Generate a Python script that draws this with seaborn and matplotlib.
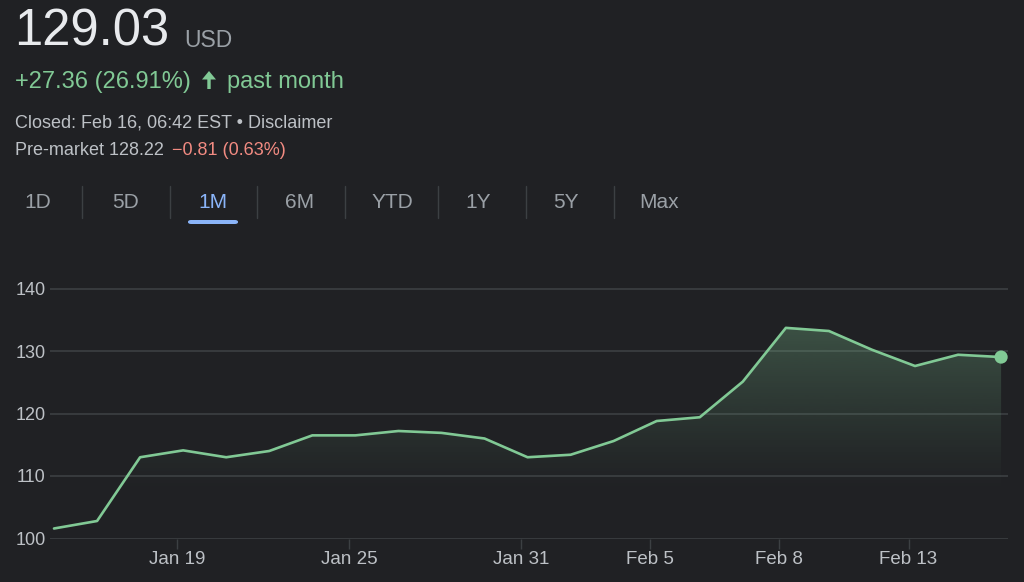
import numpy as np
import matplotlib
matplotlib.use("Agg")
import matplotlib.pyplot as plt
import seaborn as sns
from matplotlib.patches import Polygon, FancyBboxPatch
from matplotlib.lines import Line2D

# ---------------- data ----------------
dates = ["Jan 16", "Jan 17", "Jan 18", "Jan 19", "Jan 22", "Jan 23", "Jan 24",
         "Jan 25", "Jan 26", "Jan 29", "Jan 30", "Jan 31", "Feb 1", "Feb 2",
         "Feb 5", "Feb 6", "Feb 7", "Feb 8", "Feb 9", "Feb 12", "Feb 13",
         "Feb 14", "Feb 15"]
prices = [101.6, 102.8, 113.0, 114.1, 113.0, 114.0, 116.5, 116.5, 117.2, 116.9,
          116.0, 113.0, 113.4, 115.6, 118.8, 119.4, 125.1, 133.7, 133.2, 130.2,
          127.6, 129.4, 129.03]
tick_labels = ["Jan 19", "Jan 25", "Jan 31", "Feb 5", "Feb 8", "Feb 13"]
y_ticks = [100, 110, 120, 130, 140]
tabs = ["1D", "5D", "1M", "6M", "YTD", "1Y", "5Y", "Max"]
active_tab = "1M"

price_text = "129.03"
currency = "USD"
change_text = "+27.36 (26.91%)"
period_text = "past month"
closed_text = "Closed: Feb 16, 06:42 EST \u2022 Disclaimer"
premarket_text = "Pre-market 128.22"
premarket_change = "\u22120.81 (0.63%)"

# ---------------- style ----------------
BG = "#202124"
GREEN = "#81c995"
GRID = "#3c4043"
LABEL = "#9aa0a6"
LIGHT = "#bdc1c6"
WHITE = "#e8eaed"
RED = "#f28b82"
BLUE = "#8ab4f8"
FAM = ["Liberation Sans", "DejaVu Sans"]

sns.set_theme(style="dark")
plt.rcParams["font.family"] = FAM

W, H = 1024, 582
fig = plt.figure(figsize=(W / 100, H / 100), dpi=100, facecolor=BG)


def fy(ypix):
    return 1 - ypix / H


def T(x, y, s, **kw):
    fig.text(x / W, fy(y), s, **kw)


# ---------------- header ----------------
T(14, 46, price_text, fontsize=36.5, color=WHITE, va="baseline")
T(184, 47, currency, fontsize=16.5, color=LABEL, va="baseline")
T(15, 88, change_text, fontsize=17, color=GREEN, va="baseline")
# solid up-arrow icon
cx, tip, hb, bot, hw, sw = 209, 71, 79.5, 89, 7, 1.7
arrow_px = [(cx, tip), (cx + hw, hb), (cx + sw, hb), (cx + sw, bot),
            (cx - sw, bot), (cx - sw, hb), (cx - hw, hb)]
fig.add_artist(Polygon([(px / W, fy(py)) for px, py in arrow_px], closed=True,
                       transform=fig.transFigure, fc=GREEN, ec="none"))
T(227, 88, period_text, fontsize=17, color=GREEN, va="baseline")
T(15, 128, closed_text, fontsize=13, color=LIGHT, va="baseline")
T(15, 155, premarket_text, fontsize=13, color=LIGHT, va="baseline")
T(172, 155, premarket_change, fontsize=13, color=RED, va="baseline")

# ---------------- tabs ----------------
tab_x = [38, 126, 213, 300, 392, 478, 566, 659]
sep_x = [82, 170, 257, 345, 438, 526, 614]
for name, x in zip(tabs, tab_x):
    T(x, 203, name, fontsize=15, color=BLUE if name == active_tab else LABEL,
      ha="center", va="center")
for x in sep_x:
    fig.add_artist(Line2D([x / W, x / W], [fy(186), fy(218)],
                          transform=fig.transFigure, color=GRID, lw=1))
ax_i = tabs.index(active_tab)
fig.add_artist(FancyBboxPatch(((tab_x[ax_i] - 25) / W, fy(224)), 50 / W, 4 / H,
                              boxstyle="round,pad=0,rounding_size=0.003",
                              transform=fig.transFigure, fc=BLUE, ec="none"))

# ---------------- chart ----------------
ax = fig.add_axes([50 / W, (H - 538.5) / H, 958 / W, (538.5 - 276) / H])
ax.set_facecolor(BG)
x = np.arange(len(prices))

# gradient fill under the line
verts = [(x[0], 100)] + list(zip(x, prices)) + [(x[-1], 100)]
poly = Polygon(verts, closed=True, fc="none", ec="none")
ax.add_patch(poly)
g_lo, g_hi = 107, 135
grad = np.linspace(0, 1, 256).reshape(-1, 1)
rgba = np.zeros((256, 1, 4))
rgb = matplotlib.colors.to_rgb(GREEN)
rgba[..., 0], rgba[..., 1], rgba[..., 2] = rgb
rgba[..., 3] = grad ** 1.2 * 0.3
im = ax.imshow(rgba, extent=[x[0], x[-1], g_lo, g_hi], origin="lower",
               aspect="auto", zorder=1, interpolation="bilinear")
im.set_clip_path(poly)

sns.lineplot(x=x, y=prices, ax=ax, color=GREEN, lw=1.9, zorder=3)
sns.scatterplot(x=[x[-1]], y=[prices[-1]], ax=ax, color=GREEN, s=90,
                edgecolor="none", zorder=4)

ax.set_xlim(-0.093, 22.16)
ax.set_ylim(100, 142)
for s in ax.spines.values():
    s.set_visible(False)

ax.set_yticks(y_ticks)
ax.set_yticklabels([str(v) for v in y_ticks])
ax.yaxis.grid(True, color=GRID, lw=1.2)
ax.xaxis.grid(False)
ax.tick_params(axis="y", length=0, pad=3, labelsize=13, labelcolor=LIGHT)

tick_offset = -0.15
ax.set_xticks([dates.index(t) + tick_offset for t in tick_labels])
ax.set_xticklabels(tick_labels)
ax.tick_params(axis="x", length=7, width=1, color=GRID, pad=2,
               labelsize=13.5, labelcolor=LIGHT, bottom=True)
ax.set_xlabel("")
ax.set_ylabel("")

fig.savefig("out.png", dpi=100, facecolor=BG)
